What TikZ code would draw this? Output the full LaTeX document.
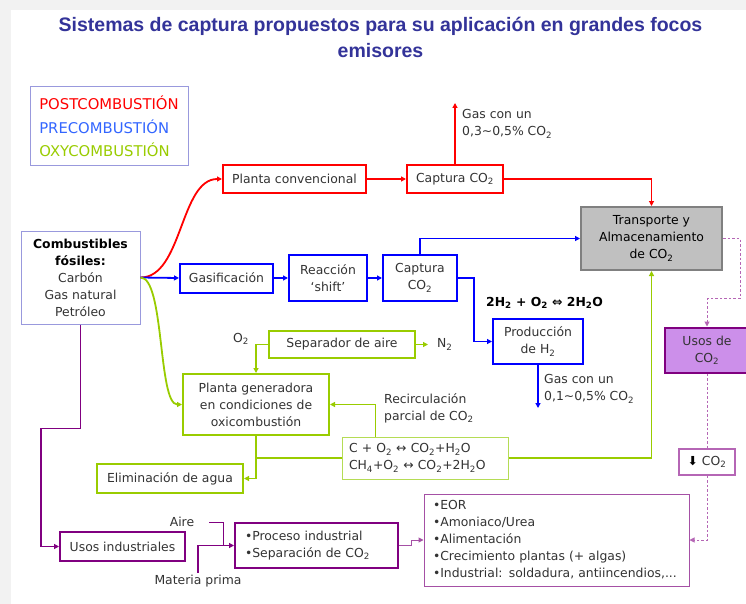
\documentclass[tikz,border=0pt]{standalone}
\usepackage{fontspec}
\setmainfont{DejaVu Sans}
\newfontfamily\headfont{Liberation Sans}
\usetikzlibrary{positioning,arrows.meta}
\definecolor{post}{HTML}{FF0000}
\definecolor{pre}{HTML}{0000FF}
\definecolor{prelight}{HTML}{3366FF}
\definecolor{oxy}{HTML}{99CC00}
\definecolor{oxylight}{HTML}{B5DC55}
\definecolor{ind}{HTML}{800080}
\definecolor{indlight}{HTML}{A550A5}
\definecolor{dashc}{HTML}{B566B5}
\definecolor{usefill}{HTML}{CC8FEA}
\definecolor{storefill}{HTML}{C0C0C0}
\definecolor{storeline}{HTML}{808080}
\definecolor{frame}{HTML}{9999DD}
\definecolor{heading}{HTML}{333399}
\definecolor{ink}{HTML}{333333}
\newcommand{\low}[1]{\textsubscript{#1}}
\newcommand{\bodysize}{\fontsize{12.4pt}{17pt}\selectfont}
\tikzset{
  box/.style={font=\bodysize, text=ink, align=center, inner sep=2pt},
  postbox/.style={box, draw=post, line width=2pt},
  prebox/.style={box, draw=pre, line width=2pt},
  oxybox/.style={box, draw=oxy, line width=2pt},
  indbox/.style={box, draw=ind, line width=2pt},
  infobox/.style={box, draw=frame, line width=1pt},
  lbl/.style={font=\bodysize, text=ink, align=left, inner sep=2pt},
  postflow/.style={draw=post, line width=1.8pt, -{Triangle[length=5pt,width=5pt]}},
  preflow/.style={draw=pre, line width=1.8pt, -{Triangle[length=5pt,width=5pt]}},
  oxyflow/.style={draw=oxy, line width=1.8pt, -{Triangle[length=5pt,width=5pt]}},
  oxyline/.style={draw=oxy, line width=1.8pt},
  indflow/.style={draw=ind, line width=1.8pt, -{Triangle[length=5pt,width=5pt]}},
  indline/.style={draw=ind, line width=1pt},
  useflow/.style={draw=indlight, line width=1pt, -{Triangle[length=5pt,width=5pt]}},
  dashline/.style={draw=dashc, line width=1pt, dash pattern=on 2.5pt off 2pt},
  dashflow/.style={dashline, -{Triangle[length=5pt,width=5pt]}},
}
\begin{document}
\begin{tikzpicture}[x=1pt,y=-1pt]
  \useasboundingbox (0,0) rectangle (746,604);
  \fill[gray!10] (0,0) rectangle (746,604);
  \fill[white] (11,10) rectangle (746,604);

  \node[font=\headfont\bfseries\fontsize{19.5pt}{26pt}\selectfont, text=heading, align=center]
    (title) at (380.5,37)
    {Sistemas de captura propuestos para su aplicación en grandes focos\\emisores};

  % legend
  \node[infobox, align=left, font=\fontsize{14.8pt}{23.5pt}\selectfont,
        minimum width=158pt, minimum height=79pt] (legend) at (109,126.5)
    {\textcolor{post}{POSTCOMBUSTIÓN}\\\textcolor{prelight}{PRECOMBUSTIÓN}\\
     \textcolor{oxy}{OXYCOMBUSTIÓN}};

  \node[infobox, minimum width=119pt, minimum height=93pt] (fuel) at (80.5,277.5)
    {\textcolor{black}{\textbf{Combustibles}}\\\textcolor{black}{\textbf{fósiles:}}\\
     Carbón\\Gas natural\\Petróleo};

  % postcombustion
  \node[postbox, minimum width=143pt, minimum height=28pt] (conv) at (294.5,179)
    {Planta convencional};
  \node[postbox, minimum width=96pt, minimum height=28pt] (capconv) at (455,179)
    {Captura CO\low{2}};
  \coordinate (gastop) at (455,103);
  \node[lbl, anchor=west] (gasconv) at (460,124) {Gas con un\\0,3\textasciitilde0,5\% CO\low{2}};

  \node[box, draw=storeline, fill=storefill, line width=2pt, text=black,
        minimum width=141pt, minimum height=63pt] (store) at (651.5,238.5)
    {Transporte y\\Almacenamiento\\de CO\low{2}};

  % precombustion
  \node[prebox, minimum width=93pt, minimum height=29pt] (gasif) at (226.5,278) {Gasificación};
  \node[prebox, minimum width=78pt, minimum height=46pt] (shift) at (328,278) {Reacción\\‘shift’};
  \node[prebox, minimum width=74pt, minimum height=46pt] (cappre) at (420,278) {Captura\\CO\low{2}};
  \node[lbl, anchor=west, text=black] (h2eq) at (484,303)
    {\textbf{2H\low{2} + O\low{2} ⇔ 2H\low{2}O}};
  \node[prebox, minimum width=90pt, minimum height=45pt] (hprod) at (538,341.5)
    {Producción\\de H\low{2}};
  \coordinate (h2out) at (538,408);
  \node[lbl, anchor=west] (gaspre) at (542,389) {Gas con un\\0,1\textasciitilde0,5\% CO\low{2}};

  % oxycombustion
  \node[oxybox, minimum width=146pt, minimum height=27pt] (asu) at (342,344.5) {Separador de aire};
  \node[lbl] (o2) at (241,339) {O\low{2}};
  \coordinate (n2out) at (428,344.5);
  \node[lbl, right=7pt of n2out] (n2) {N\low{2}};
  \node[oxybox, minimum width=146pt, minimum height=61pt] (oxy) at (256,404.5)
    {Planta generadora\\en condiciones de\\oxicombustión};
  \node[box, draw=oxylight, line width=1pt, align=left, text width=152pt, inner xsep=7pt,
        minimum height=42pt] (eq) at (425,458)
    {C + O\low{2} ↔ CO\low{2}+H\low{2}O\\CH\low{4}+O\low{2} ↔ CO\low{2}+2H\low{2}O};
  \node[lbl, anchor=west] (recirc) at (382,408) {Recirculación\\parcial de CO\low{2}};
  \node[oxybox, minimum width=146pt, minimum height=29pt] (water) at (170,478.5)
    {Eliminación de agua};

  % industrial uses
  \node[indbox, minimum width=125pt, minimum height=29pt] (indus) at (122.5,546.5)
    {Usos industriales};
  \node[indbox, align=left, text width=143pt, inner xsep=10pt, minimum height=45pt]
    (proc) at (316.5,545.5) {•Proceso industrial\\•Separación de CO\low{2}};
  \node[lbl] (aire) at (182,522) {Aire};
  \coordinate (airein) at (209,522);
  \coordinate (join) at (223,545.5);
  \node[lbl] (materia) at (198,581) {Materia prima};
  \node[box, draw=indlight, line width=1pt, align=left, text width=247pt, inner xsep=9pt,
        minimum height=92pt] (uses) at (556.5,540)
    {•EOR\\•Amoniaco/Urea\\•Alimentación\\•Crecimiento plantas (+ algas)\\
     •Industrial: soldadura, antiincendios,...};

  % CO2 uses
  \node[box, draw=ind, fill=usefill, line width=2pt, minimum width=84pt, minimum height=45pt]
    (usos) at (707,350) {Usos de\\CO\low{2}};
  \node[box, draw=dashc, line width=1.5pt, minimum width=56pt, minimum height=26pt]
    (dco2) at (707,462) {{\color{black}⬇} CO\low{2}};
  \coordinate (bend) at (740,298.5);

  % postcombustion flows
  \draw[postflow] (fuel.east) .. controls +(42,0) and +(-42,0) .. (conv.west);
  \draw[postflow] (conv.east) -- (capconv.west);
  \draw[postflow] (capconv.north) -- (gastop);
  \draw[postflow] (capconv.east) -| (store.north);

  % precombustion flows
  \draw[preflow] (fuel.east) -- (gasif.west);
  \draw[preflow] (gasif.east) -- (shift.west);
  \draw[preflow] (shift.east) -- (cappre.west);
  \draw[preflow] (cappre.north) |- (store.west);
  \draw[preflow] (cappre.east) -- ++(16,0) |- (hprod.west);
  \draw[preflow] (hprod.south) -- (h2out);

  % oxycombustion flows
  \draw[oxyflow] (fuel.east) .. controls +(24,0) and +(-24,0) .. (oxy.west);
  \draw[oxyflow] (asu.west) -| (oxy.north);
  \draw[oxyflow] (asu.east) -- (n2out);
  \draw[oxyflow] ([xshift=34pt]eq.north west) |- (oxy.east);
  \draw[oxyline] (oxy.south) |- (eq.west);
  \draw[oxyflow] (oxy.south) |- (water.east);
  \draw[oxyflow] (eq.east) -| (store.south);

  % industrial flows
  \draw[indflow] (fuel.south) -- ++(0,104) -| ([xshift=-18pt]indus.west) -- (indus.west);
  \draw[indline] (airein) -| (join);
  \draw[indflow] (materia.north) |- (proc.west);
  \draw[useflow] (proc.east) -- ++(12,0) |- (uses.west);

  % storage to uses
  \draw[dashline] (store.east) -| (bend);
  \draw[dashflow] (bend) -| (usos.north);
  \draw[dashline] (usos.south) -- (dco2.north);
  \draw[dashflow] (dco2.south) |- (uses.east);

\end{tikzpicture}
\end{document}
